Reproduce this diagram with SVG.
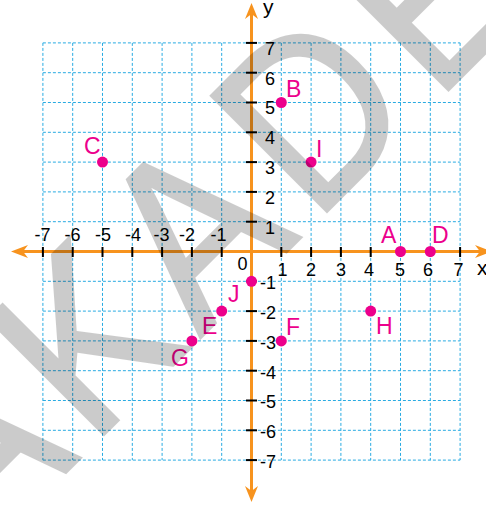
<svg xmlns="http://www.w3.org/2000/svg" width="486" height="507" viewBox="0 0 486 507">
<defs>
<style>
.grid line{stroke:#29ABE2;stroke-width:1;stroke-dasharray:3 2;fill:none}
.axis{stroke:#F7931E;stroke-width:3;fill:none}
.ahead{fill:#F7931E}
.tick{stroke:#000;stroke-width:2}
.num{font-family:"Liberation Sans",Arial,sans-serif;font-size:18px;fill:#000}
.axl{font-family:"Liberation Sans",Arial,sans-serif;font-size:21px;fill:#000}
.pt{fill:#EC008C}
.lbl{font-family:"Liberation Sans",Arial,sans-serif;font-size:23px;fill:#EC008C}
.wm{font-family:"Liberation Sans",Arial,sans-serif;font-size:237px;fill:#000;stroke:#000;stroke-width:3.5;stroke-linejoin:miter}
</style>
</defs>
<rect width="486" height="507" fill="#fff"/>
<g id="grid" class="grid">
<line x1="42.9" y1="42.9" x2="42.9" y2="460.1"/>
<line x1="72.7" y1="42.9" x2="72.7" y2="460.1"/>
<line x1="102.5" y1="42.9" x2="102.5" y2="460.1"/>
<line x1="132.3" y1="42.9" x2="132.3" y2="460.1"/>
<line x1="162.1" y1="42.9" x2="162.1" y2="460.1"/>
<line x1="191.9" y1="42.9" x2="191.9" y2="460.1"/>
<line x1="221.7" y1="42.9" x2="221.7" y2="460.1"/>
<line x1="281.3" y1="42.9" x2="281.3" y2="460.1"/>
<line x1="311.1" y1="42.9" x2="311.1" y2="460.1"/>
<line x1="340.9" y1="42.9" x2="340.9" y2="460.1"/>
<line x1="370.7" y1="42.9" x2="370.7" y2="460.1"/>
<line x1="400.5" y1="42.9" x2="400.5" y2="460.1"/>
<line x1="430.3" y1="42.9" x2="430.3" y2="460.1"/>
<line x1="460.1" y1="42.9" x2="460.1" y2="460.1"/>
<line x1="42.9" y1="42.9" x2="460.1" y2="42.9"/>
<line x1="42.9" y1="72.7" x2="460.1" y2="72.7"/>
<line x1="42.9" y1="102.5" x2="460.1" y2="102.5"/>
<line x1="42.9" y1="132.3" x2="460.1" y2="132.3"/>
<line x1="42.9" y1="162.1" x2="460.1" y2="162.1"/>
<line x1="42.9" y1="191.9" x2="460.1" y2="191.9"/>
<line x1="42.9" y1="221.7" x2="460.1" y2="221.7"/>
<line x1="42.9" y1="281.3" x2="460.1" y2="281.3"/>
<line x1="42.9" y1="311.1" x2="460.1" y2="311.1"/>
<line x1="42.9" y1="340.9" x2="460.1" y2="340.9"/>
<line x1="42.9" y1="370.7" x2="460.1" y2="370.7"/>
<line x1="42.9" y1="400.5" x2="460.1" y2="400.5"/>
<line x1="42.9" y1="430.3" x2="460.1" y2="430.3"/>
<line x1="42.9" y1="460.1" x2="460.1" y2="460.1"/>
</g>
<g id="connectors">
<line class="axis" x1="22" y1="251.5" x2="480" y2="251.5"/>
<line class="axis" x1="251.5" y1="14" x2="251.5" y2="492"/>
<path class="ahead" d="M11,251.5 L28,245 L23,251.5 L28,258 Z"/>
<path class="ahead" d="M492,251.5 L475,245 L480,251.5 L475,258 Z"/>
<path class="ahead" d="M251.5,3 L245,19 L251.5,14 L258,19 Z"/>
<path class="ahead" d="M251.5,502 L245,486 L251.5,491 L258,486 Z"/>
</g>
<g id="ticks" class="tick">
<line x1="42.9" y1="247" x2="42.9" y2="257"/>
<line x1="72.7" y1="247" x2="72.7" y2="257"/>
<line x1="102.5" y1="247" x2="102.5" y2="257"/>
<line x1="132.3" y1="247" x2="132.3" y2="257"/>
<line x1="162.1" y1="247" x2="162.1" y2="257"/>
<line x1="191.9" y1="247" x2="191.9" y2="257"/>
<line x1="221.7" y1="247" x2="221.7" y2="257"/>
<line x1="281.3" y1="247" x2="281.3" y2="257"/>
<line x1="311.1" y1="247" x2="311.1" y2="257"/>
<line x1="340.9" y1="247" x2="340.9" y2="257"/>
<line x1="370.7" y1="247" x2="370.7" y2="257"/>
<line x1="400.5" y1="247" x2="400.5" y2="257"/>
<line x1="430.3" y1="247" x2="430.3" y2="257"/>
<line x1="460.1" y1="247" x2="460.1" y2="257"/>
<line x1="246" y1="42.9" x2="257" y2="42.9"/>
<line x1="246" y1="72.7" x2="257" y2="72.7"/>
<line x1="246" y1="102.5" x2="257" y2="102.5"/>
<line x1="246" y1="132.3" x2="257" y2="132.3"/>
<line x1="246" y1="162.1" x2="257" y2="162.1"/>
<line x1="246" y1="191.9" x2="257" y2="191.9"/>
<line x1="246" y1="221.7" x2="257" y2="221.7"/>
<line x1="246" y1="281.3" x2="257" y2="281.3"/>
<line x1="246" y1="311.1" x2="257" y2="311.1"/>
<line x1="246" y1="340.9" x2="257" y2="340.9"/>
<line x1="246" y1="370.7" x2="257" y2="370.7"/>
<line x1="246" y1="400.5" x2="257" y2="400.5"/>
<line x1="246" y1="430.3" x2="257" y2="430.3"/>
<line x1="246" y1="460.1" x2="257" y2="460.1"/>
</g>
<g id="axis-labels" class="num" text-anchor="middle">
<text x="42.5" y="241">-7</text>
<text x="72.5" y="241">-6</text>
<text x="103" y="241">-5</text>
<text x="133" y="241">-4</text>
<text x="161.5" y="241">-3</text>
<text x="187" y="241">-2</text>
<text x="218.5" y="241">-1</text>
<text x="242.5" y="270">0</text>
<text x="282.5" y="275.5">1</text>
<text x="311" y="275.5">2</text>
<text x="341" y="275.5">3</text>
<text x="369" y="275.5">4</text>
<text x="400" y="275.5">5</text>
<text x="428" y="275.5">6</text>
<text x="458.5" y="275.5">7</text>
</g>
<g id="y-labels" class="num">
<text x="265" y="55">7</text>
<text x="265" y="85">6</text>
<text x="265" y="113.5">5</text>
<text x="265" y="143.5">4</text>
<text x="265" y="174">3</text>
<text x="265" y="204">2</text>
<text x="265" y="233.5">1</text>
<text x="260" y="288.5">-1</text>
<text x="260" y="318.5">-2</text>
<text x="260" y="348.5">-3</text>
<text x="260" y="378.5">-4</text>
<text x="260" y="408">-5</text>
<text x="260" y="438">-6</text>
<text x="260" y="468">-7</text>
</g>
<text class="axl" x="477" y="275">x</text>
<text class="axl" x="263" y="13.5">y</text>
<g id="A"><circle class="pt" cx="400.5" cy="251.5" r="5.5"/><text class="lbl" x="381" y="243">A</text></g>
<g id="B"><circle class="pt" cx="281.3" cy="102.5" r="5.5"/><text class="lbl" x="286" y="97">B</text></g>
<g id="C"><circle class="pt" cx="102.5" cy="162.1" r="5.5"/><text class="lbl" x="84" y="154">C</text></g>
<g id="D"><circle class="pt" cx="430.3" cy="251.5" r="5.5"/><text class="lbl" x="432" y="243">D</text></g>
<g id="E"><circle class="pt" cx="221.7" cy="311.1" r="5.5"/><text class="lbl" x="202" y="333.5">E</text></g>
<g id="F"><circle class="pt" cx="281.3" cy="340.9" r="5.5"/><text class="lbl" x="286" y="335">F</text></g>
<g id="G"><circle class="pt" cx="191.9" cy="340.9" r="5.5"/><text class="lbl" x="171" y="366">G</text></g>
<g id="H"><circle class="pt" cx="370.7" cy="311.1" r="5.5"/><text class="lbl" x="376" y="333.5">H</text></g>
<g id="I"><circle class="pt" cx="311.1" cy="162.1" r="5.5"/><text class="lbl" x="316" y="157">I</text></g>
<g id="J"><circle class="pt" cx="251.5" cy="281.3" r="5.5"/><text class="lbl" x="228" y="302">J</text></g>
<g id="watermark" opacity="0.2">
<text class="wm" transform="translate(-20.2,558.2) rotate(-45) scale(0.9,1)" x="0 175.6 346.4 525.9 716.9" y="0">AKADE</text>
</g>
</svg>
